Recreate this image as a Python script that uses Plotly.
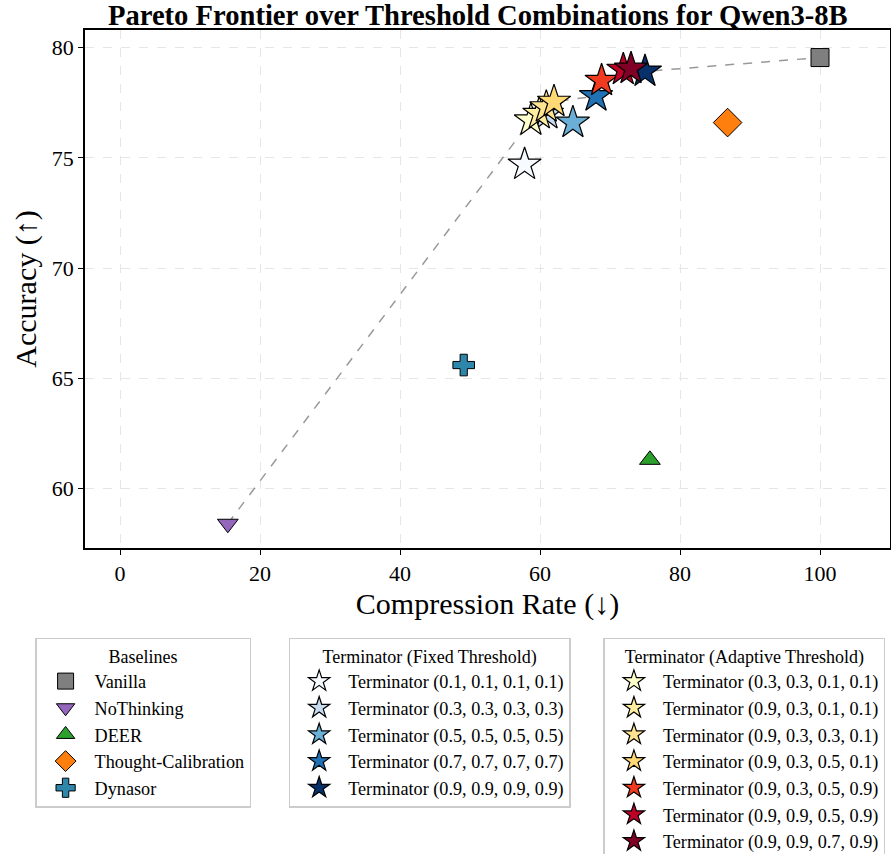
import plotly.graph_objects as go

# ---------------- data ----------------
baseline_names = ["Vanilla", "NoThinking", "DEER", "Thought-Calibration", "Dynasor"]
baseline_x = [100.0, 15.4, 75.7, 86.8, 49.1]
baseline_y = [79.55, 58.4, 61.3, 76.6, 65.6]
baseline_colors = ["#7f7f7f", "#9467bd", "#2ca02c", "#ff7f0e", "#2e86ab"]
baseline_symbols = ["square", "triangle-down", "triangle-up", "diamond", "cross"]

fixed_names = ["Terminator (0.1, 0.1, 0.1, 0.1)", "Terminator (0.3, 0.3, 0.3, 0.3)",
               "Terminator (0.5, 0.5, 0.5, 0.5)", "Terminator (0.7, 0.7, 0.7, 0.7)",
               "Terminator (0.9, 0.9, 0.9, 0.9)"]
fixed_x = [57.8, 61.0, 64.7, 68.0, 75.0]
fixed_y = [74.7, 77.0, 76.6, 77.8, 78.92]
fixed_colors = ["#f7fbff", "#c6dbef", "#6baed6", "#2171b5", "#08306b"]

adaptive_names = ["Terminator (0.3, 0.3, 0.1, 0.1)", "Terminator (0.9, 0.3, 0.1, 0.1)",
                  "Terminator (0.9, 0.3, 0.3, 0.1)", "Terminator (0.9, 0.3, 0.5, 0.1)",
                  "Terminator (0.9, 0.3, 0.5, 0.9)", "Terminator (0.9, 0.9, 0.5, 0.9)",
                  "Terminator (0.9, 0.9, 0.7, 0.9)"]
adaptive_x = [58.7, 59.9, 60.9, 62.0, 68.8, 71.9, 73.0]
adaptive_y = [76.7, 77.0, 77.3, 77.55, 78.5, 79.0, 79.05]
adaptive_colors = ["#ffffcc", "#ffeda0", "#fee391", "#fed976", "#f03b20", "#bd0026", "#800026"]

# frontier members (by name), in order of compression rate
frontier_names = ["NoThinking", adaptive_names[0], adaptive_names[1], adaptive_names[2],
                  adaptive_names[3], fixed_names[3], adaptive_names[4], adaptive_names[5],
                  adaptive_names[6], fixed_names[4], "Vanilla"]

FONT = "Liberation Serif"

lookup = {}
for n, x, y in zip(baseline_names, baseline_x, baseline_y):
    lookup[n] = (x, y)
for n, x, y in zip(fixed_names, fixed_x, fixed_y):
    lookup[n] = (x, y)
for n, x, y in zip(adaptive_names, adaptive_x, adaptive_y):
    lookup[n] = (x, y)
fx = [lookup[n][0] for n in frontier_names]
fy = [lookup[n][1] for n in frontier_names]

fig = go.Figure()

fig.add_trace(go.Scatter(x=fx, y=fy, mode="lines",
                         line=dict(color="#999999", width=1.5, dash="dash"),
                         showlegend=False, hoverinfo="skip"))

bsizes = [18, 18, 18, 22, 18]
for n, x, y, c, s, sz in zip(baseline_names, baseline_x, baseline_y, baseline_colors,
                             baseline_symbols, bsizes):
    fig.add_trace(go.Scatter(x=[x], y=[y], mode="markers", name=n, legend="legend",
                             marker=dict(symbol=s, size=sz, color=c,
                                         line=dict(color="black", width=1))))

for n, x, y, c in zip(fixed_names, fixed_x, fixed_y, fixed_colors):
    fig.add_trace(go.Scatter(x=[x], y=[y], mode="markers", name=n, legend="legend2",
                             marker=dict(symbol="star", size=25, color=c,
                                         line=dict(color="black", width=1.2))))

for n, x, y, c in zip(adaptive_names, adaptive_x, adaptive_y, adaptive_colors):
    fig.add_trace(go.Scatter(x=[x], y=[y], mode="markers", name=n, legend="legend3",
                             marker=dict(symbol="star", size=25, color=c,
                                         line=dict(color="black", width=1.2))))

axis_common = dict(showline=True, linecolor="black", linewidth=1.5, mirror=True,
                   ticks="outside", ticklen=5, tickcolor="black",
                   showgrid=True, gridcolor="#e6e6e6", griddash="dash", gridwidth=1,
                   zeroline=False, tickfont=dict(family=FONT, size=22, color="black"))

fig.update_xaxes(range=[-5, 110], tickvals=[0, 20, 40, 60, 80, 100],
                 title=dict(text="Compression Rate (↓)", font=dict(family=FONT, size=30, color="black"),
                            standoff=8),
                 **axis_common)
fig.update_yaxes(range=[57.3, 80.8], tickvals=[60, 65, 70, 75, 80],
                 title=dict(text="Accuracy (↑)", font=dict(family=FONT, size=30, color="black"),
                            standoff=6),
                 **axis_common)

leg_common = dict(bgcolor="white", bordercolor="#cccccc", borderwidth=1.5,
                  font=dict(family=FONT, size=18.2, color="black"),
                  xanchor="left", yanchor="top", tracegroupgap=0, itemsizing="trace",
                  itemwidth=48)

LEG_Y = -0.1735

fig.update_layout(
    width=891, height=854,
    margin=dict(l=85, r=1, t=30, b=306, autoexpand=False),
    plot_bgcolor="white", paper_bgcolor="white",
    title=dict(text="<b>Pareto Frontier over Threshold Combinations for Qwen3-8B</b>",
               font=dict(family=FONT, size=28.6, color="black"),
               x=0.488, xanchor="center", xref="paper",
               y=0.983, yanchor="middle", yref="container"),
    legend=dict(x=-0.062, y=LEG_Y,
                title=dict(text="Baselines", side="top center",
                           font=dict(family=FONT, size=18, color="black")), **leg_common),
    legend2=dict(x=0.253, y=LEG_Y,
                 title=dict(text="Terminator (Fixed Threshold)", side="top center",
                            font=dict(family=FONT, size=18, color="black")), **leg_common),
    legend3=dict(x=0.644, y=LEG_Y,
                 title=dict(text="Terminator (Adaptive Threshold)", side="top center",
                            font=dict(family=FONT, size=18, color="black")), **leg_common),
)

fig.write_html("out.html")
